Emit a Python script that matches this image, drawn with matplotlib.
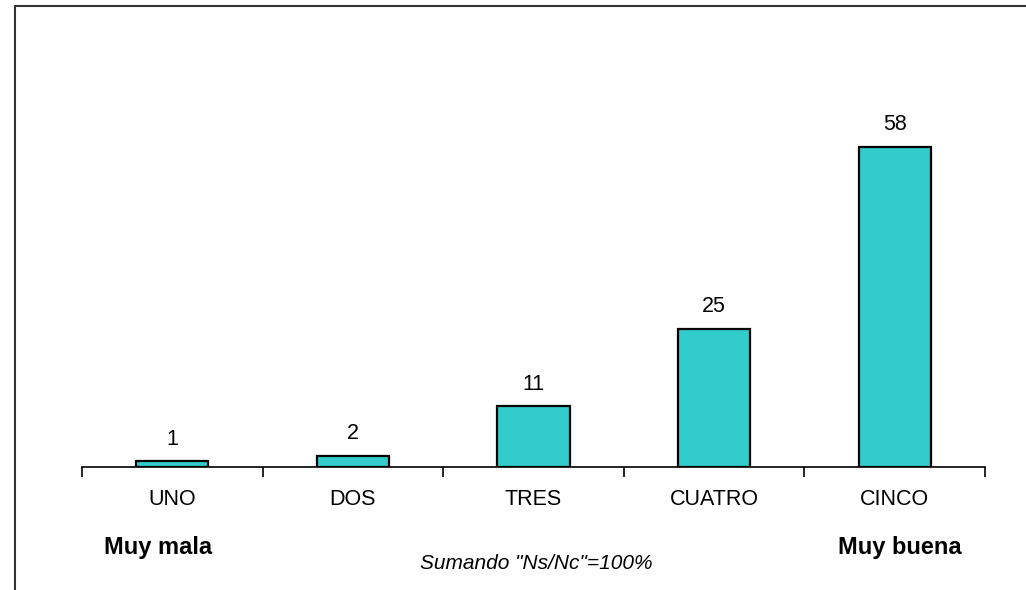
"""Bar chart: rating distribution from Muy mala to Muy buena."""
import matplotlib.pyplot as plt
from matplotlib.lines import Line2D

categories = ["UNO", "DOS", "TRES", "CUATRO", "CINCO"]
values = [1, 2, 11, 25, 58]
left_note = "Muy mala"
right_note = "Muy buena"
footnote = 'Sumando "Ns/Nc"=100%'

plt.rcParams["font.family"] = ["Liberation Sans", "DejaVu Sans"]

fig = plt.figure(figsize=(10.26, 5.9), dpi=100)
ax = fig.add_axes([82 / 1026, 123 / 590, 903 / 1026, 386 / 590])

x = list(range(len(categories)))
ax.bar(x, values, width=0.4, color="#33CCCC", edgecolor="black", linewidth=1.6)
for xi, v in zip(x, values):
    ax.annotate(str(v), (xi, v), xytext=(0, 8.5), textcoords="offset points",
                ha="center", va="bottom", fontsize=15.5)

ax.set_xlim(-0.5, len(categories) - 0.5)
ax.set_ylim(0, 70)
ax.set_yticks([])
for side in ["top", "right", "left"]:
    ax.spines[side].set_visible(False)
ax.spines["bottom"].set_linewidth(1.2)

ax.set_xticks(x)
ax.set_xticklabels(categories, fontsize=15.5)
ax.tick_params(axis="x", which="major", length=0, pad=16)
ax.set_xticks([i - 0.5 for i in range(len(categories) + 1)], minor=True)
ax.tick_params(axis="x", which="minor", length=7, width=1.2)

fig.text(158 / 1026, 1 - 554 / 590, left_note, ha="center", va="baseline",
         fontsize=17, fontweight="bold")
fig.text(900 / 1026, 1 - 554 / 590, right_note, ha="center", va="baseline",
         fontsize=17, fontweight="bold")
fig.text(536 / 1026, 1 - 569 / 590, footnote, ha="center", va="baseline",
         fontsize=15, style="italic")

# frame lines (top and left only)
fig.add_artist(Line2D([15 / 1026, 1], [1 - 6 / 590, 1 - 6 / 590],
                      transform=fig.transFigure, color="#333333", linewidth=1.5))
fig.add_artist(Line2D([15 / 1026, 15 / 1026], [0, 1 - 6 / 590],
                      transform=fig.transFigure, color="#333333", linewidth=1.5))

fig.savefig("out.png", dpi=100)
